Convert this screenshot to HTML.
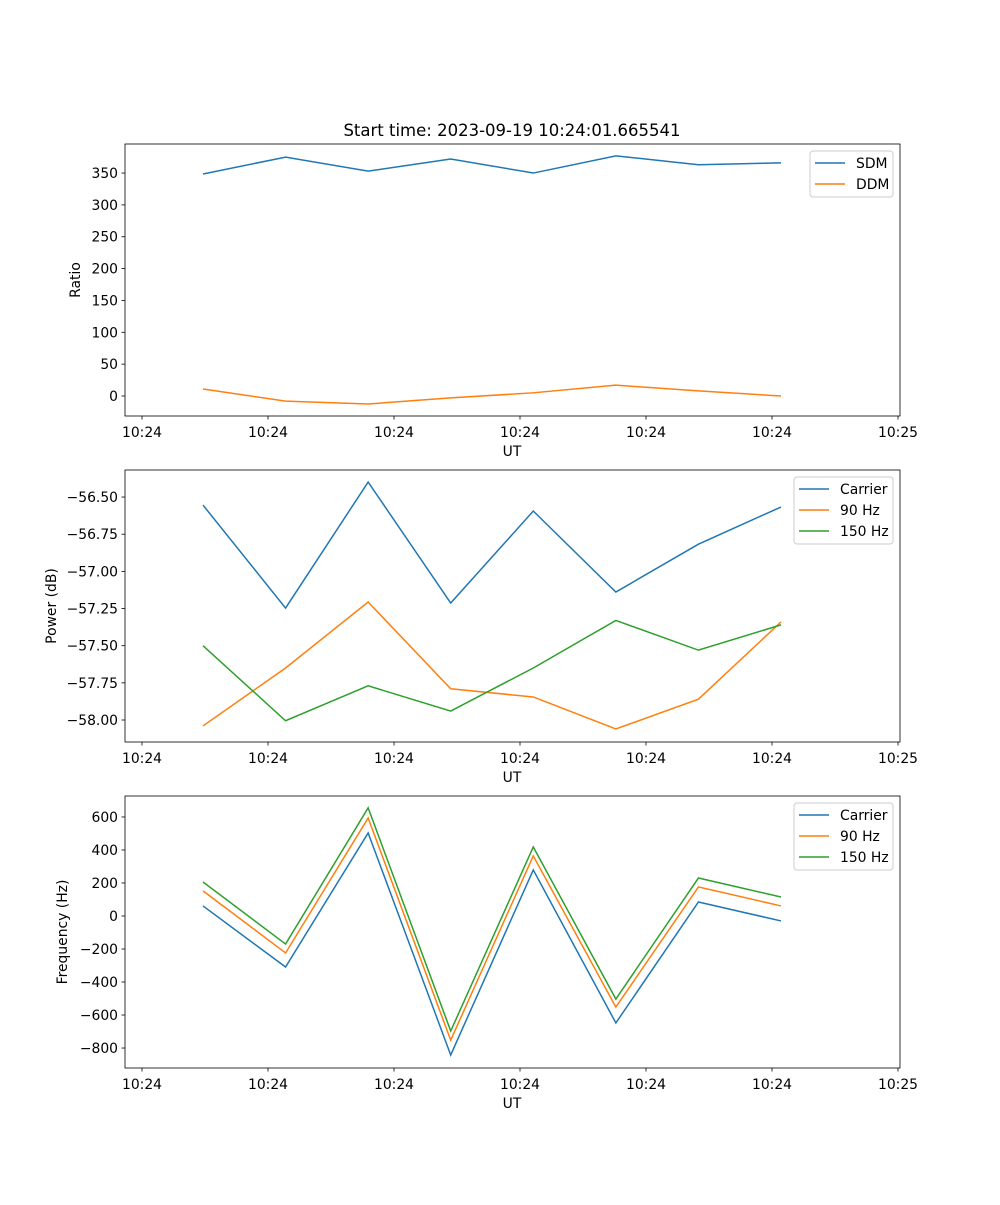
<!DOCTYPE html>
<html><head><meta charset="utf-8"><style>
body{margin:0;background:#fff}
svg{font-family:"DejaVu Sans","Liberation Sans",sans-serif;}
</style></head><body>
<svg id="fig" width="1000" height="1200" xmlns="http://www.w3.org/2000/svg">
<rect width="1000" height="1200" fill="#fff"/>
<text x="512" y="136" font-size="16.5" text-anchor="middle">Start time: 2023-09-19 10:24:01.665541</text>
</svg>
<script>
const xIndex = [0,1,2,3,4,5,6,7];
const xTickLabels = ["10:24","10:24","10:24","10:24","10:24","10:24","10:25"];
const sdm = [348.5,375,353,372,350,377,363,366];
const ddm = [11,-8,-12.5,-3,5,17,8,0];
const pCarrier = [-56.554,-57.247,-56.399,-57.213,-56.594,-57.139,-56.817,-56.567];
const p90 = [-58.04,-57.65,-57.206,-57.79,-57.845,-58.06,-57.86,-57.34];
const p150 = [-57.50,-58.005,-57.77,-57.94,-57.65,-57.33,-57.53,-57.36];
const fCarrier = [61,-309,503,-842,279,-648,85,-30];
const f90 = [152,-224,594,-752,364,-552,176,61];
const f150 = [206,-170,655,-697,418,-503,230,115];
const ratioTicks = [0,50,100,150,200,250,300,350];
const powerTicks = [-58.00,-57.75,-57.50,-57.25,-57.00,-56.75,-56.50];
const freqTicks = [-800,-600,-400,-200,0,200,400,600];

const NS="http://www.w3.org/2000/svg";
const svg=document.getElementById('fig');
function el(tag,attrs,parent){const e=document.createElementNS(NS,tag);for(const k in attrs)e.setAttribute(k,attrs[k]);(parent||svg).appendChild(e);return e;}
const L=125,R=900;
// x axis: index -0.75 .. 8.6 approx from pixel positions
const xPix=i=>203+i*82.57;
const tickPix=[142,268,394,520,646,772,898];
const colors={blue:"#1f77b4",orange:"#ff7f0e",green:"#2ca02c"};

function panel(name,top,bot,ymin,ymax,ticks,fmt,ylabel,ylx,series,legend){
  const g=el('g',{});
  
  
  const y=v=>bot-(v-ymin)/(ymax-ymin)*(bot-top);
  ticks.forEach(t=>{
    const yy=y(t);
    const tl=el('line',{x1:L-3.5,x2:L,y1:yy,y2:yy,stroke:'#000','stroke-width':0.8},g);
    
    
    const tx=el('text',{x:L-7,y:yy+5,'font-size':13.9,'text-anchor':'end'},g);
    
    
    tx.textContent=fmt(t);
  });
  tickPix.forEach((px,i)=>{
    el('line',{x1:px,x2:px,y1:bot,y2:bot+3.5,stroke:'#000','stroke-width':0.8},g);
    const tx=el('text',{x:px,y:bot+21,'font-size':13.9,'text-anchor':'middle'},g);
    
    
    tx.textContent=xTickLabels[i];
  });
  const xl=el('text',{x:512,y:bot+40,'font-size':13.9,'text-anchor':'middle'},g);
  
  
  xl.textContent='UT';
  const yl=el('text',{x:ylx,y:(top+bot)/2,'font-size':13.9,'text-anchor':'middle',transform:`rotate(-90 ${ylx} ${(top+bot)/2})`},g);
  
  
  yl.textContent=ylabel;
  series.forEach(s=>{
    const pl=el('polyline',{points:s.data.map((v,i)=>xPix(xIndex[i])+','+y(v)).join(' '),fill:'none',stroke:s.color,'stroke-width':1.5},g);
    
    
  });
  const fr=el('rect',{x:L,y:top,width:R-L,height:bot-top,fill:'none',stroke:'#000','stroke-width':0.8},g);
  
  
  // legend
  const lg=el('g',{},g);
  
  
  el('rect',{x:legend.x,y:top+7,width:legend.w,height:series.length*21+4,rx:3,fill:'#fff','fill-opacity':0.8,stroke:'#ccc'},lg);
  series.forEach((s,i)=>{
    const yy=top+19+i*21;
    el('line',{x1:legend.x+5,x2:legend.x+35,y1:yy,y2:yy,stroke:s.color,'stroke-width':1.5},lg);
    const t=el('text',{x:legend.x+46,y:yy+5,'font-size':13.9},lg);
    
    
    t.textContent=s.label;
  });
}
panel('ratio',144,416,-31.4,395.6,ratioTicks,t=>String(t),'Ratio',80,
  [{id:'sdm',label:'SDM',data:sdm,color:colors.blue},{id:'ddm',label:'DDM',data:ddm,color:colors.orange}],{x:810,w:83});
panel('power',470,742,-58.148,-56.318,powerTicks,t=>t.toFixed(2).replace('-','\u2212'),'Power (dB)',56,
  [{id:'power-carrier',label:'Carrier',data:pCarrier,color:colors.blue},{id:'power-90hz',label:'90 Hz',data:p90,color:colors.orange},{id:'power-150hz',label:'150 Hz',data:p150,color:colors.green}],{x:794,w:99});
panel('frequency',796,1068,-921,727,freqTicks,t=>String(t).replace('-','\u2212'),'Frequency (Hz)',67,
  [{id:'freq-carrier',label:'Carrier',data:fCarrier,color:colors.blue},{id:'freq-90hz',label:'90 Hz',data:f90,color:colors.orange},{id:'freq-150hz',label:'150 Hz',data:f150,color:colors.green}],{x:794,w:99});
</script>
</body></html>
